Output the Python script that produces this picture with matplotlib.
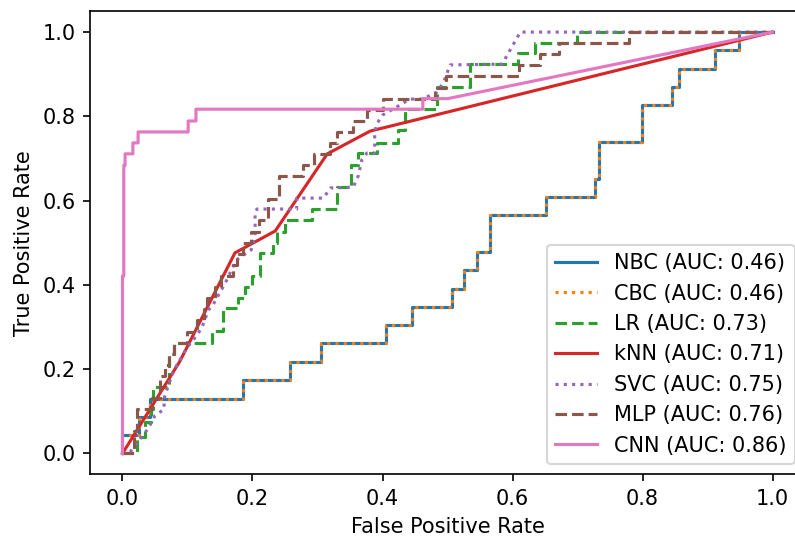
import matplotlib
matplotlib.use("Agg")
import matplotlib.pyplot as plt

# ROC curves
nbc_fpr = [0, 0, 0.026, 0.026, 0.043, 0.043, 0.186, 0.186, 0.257, 0.257, 0.305, 0.305,
           0.405, 0.405, 0.446, 0.446, 0.507, 0.507, 0.526, 0.526, 0.546, 0.546, 0.565, 0.565,
           0.652, 0.652, 0.727, 0.727, 0.733, 0.733, 0.799, 0.799, 0.845, 0.845, 0.856, 0.856,
           0.912, 0.912, 0.948, 0.948, 1.0]
nbc_tpr = [0, 0.043, 0.043, 0.087, 0.087, 0.13, 0.13, 0.174, 0.174, 0.217, 0.217, 0.261,
           0.261, 0.304, 0.304, 0.348, 0.348, 0.391, 0.391, 0.435, 0.435, 0.478, 0.478, 0.565,
           0.565, 0.609, 0.609, 0.652, 0.652, 0.739, 0.739, 0.826, 0.826, 0.87, 0.87, 0.913,
           0.913, 0.957, 0.957, 1.0, 1.0]

# CBC gives the same curve as NBC
cbc_fpr = list(nbc_fpr)
cbc_tpr = list(nbc_tpr)

lr_fpr = [0, 0.022, 0.022, 0.035, 0.035, 0.044, 0.044, 0.047, 0.047, 0.072, 0.072, 0.079,
          0.079, 0.137, 0.137, 0.155, 0.155, 0.178, 0.178, 0.188, 0.188, 0.2, 0.2, 0.212,
          0.212, 0.232, 0.232, 0.238, 0.238, 0.25, 0.25, 0.292, 0.292, 0.33, 0.33, 0.352,
          0.352, 0.363, 0.363, 0.392, 0.392, 0.424, 0.424, 0.435, 0.435, 0.484, 0.484, 0.535,
          0.535, 0.608, 0.608, 0.635, 0.635, 0.699, 0.699, 1.0]
lr_tpr = [0, 0, 0.039, 0.039, 0.075, 0.075, 0.105, 0.105, 0.158, 0.158, 0.237, 0.237,
          0.262, 0.262, 0.29, 0.29, 0.345, 0.345, 0.369, 0.369, 0.395, 0.395, 0.421, 0.421,
          0.476, 0.476, 0.5, 0.5, 0.526, 0.526, 0.554, 0.554, 0.58, 0.58, 0.632, 0.632,
          0.684, 0.684, 0.713, 0.713, 0.737, 0.737, 0.767, 0.767, 0.817, 0.817, 0.87, 0.87,
          0.924, 0.924, 0.95, 0.95, 0.974, 0.974, 1.0, 1.0]

knn_fpr = [0, 0.088, 0.173, 0.235, 0.315, 0.381, 1.0]
knn_tpr = [0, 0.218, 0.476, 0.528, 0.711, 0.765, 1.0]

svc_fpr = [0, 0.01, 0.03, 0.04, 0.05, 0.064, 0.064, 0.07, 0.08, 0.1, 0.107, 0.122, 0.132,
           0.139, 0.158, 0.175, 0.198, 0.204, 0.204, 0.207, 0.268, 0.268, 0.309, 0.32, 0.355,
           0.363, 0.368, 0.376, 0.388, 0.388, 0.392, 0.4, 0.427, 0.442, 0.462, 0.484, 0.494,
           0.504, 0.584, 0.612, 1.0]
svc_tpr = [0, 0, 0.04, 0.06, 0.09, 0.105, 0.13, 0.16, 0.2, 0.253, 0.265, 0.298, 0.34,
           0.352, 0.404, 0.459, 0.483, 0.518, 0.573, 0.58, 0.58, 0.606, 0.606, 0.63, 0.632,
           0.66, 0.696, 0.713, 0.713, 0.763, 0.784, 0.803, 0.827, 0.841, 0.841, 0.858, 0.881,
           0.922, 0.924, 1.0, 1.0]

mlp_fpr = [0, 0.018, 0.018, 0.022, 0.022, 0.045, 0.045, 0.058, 0.058, 0.066, 0.066, 0.072,
           0.072, 0.08, 0.08, 0.1, 0.1, 0.115, 0.115, 0.126, 0.126, 0.13, 0.13, 0.142, 0.142,
           0.152, 0.152, 0.17, 0.17, 0.176, 0.176, 0.186, 0.186, 0.198, 0.198, 0.21, 0.21,
           0.224, 0.224, 0.241, 0.241, 0.278, 0.278, 0.295, 0.295, 0.319, 0.319, 0.33, 0.33,
           0.355, 0.355, 0.376, 0.376, 0.4, 0.4, 0.481, 0.481, 0.498, 0.498, 0.61, 0.61,
           0.642, 0.642, 0.672, 0.672, 0.779, 0.779, 1.0]
mlp_tpr = [0, 0, 0.053, 0.053, 0.105, 0.105, 0.132, 0.132, 0.184, 0.184, 0.211, 0.211,
           0.237, 0.237, 0.263, 0.263, 0.289, 0.289, 0.316, 0.316, 0.342, 0.342, 0.368, 0.368,
           0.395, 0.395, 0.421, 0.421, 0.447, 0.447, 0.474, 0.474, 0.5, 0.5, 0.526, 0.526,
           0.553, 0.553, 0.605, 0.605, 0.658, 0.658, 0.684, 0.684, 0.711, 0.711, 0.737, 0.737,
           0.763, 0.763, 0.789, 0.789, 0.816, 0.816, 0.842, 0.842, 0.868, 0.868, 0.895, 0.895,
           0.921, 0.921, 0.947, 0.947, 0.974, 0.974, 1.0, 1.0]

cnn_fpr = [0, 0, 0.002, 0.002, 0.004, 0.004, 0.016, 0.016, 0.024, 0.024, 0.101, 0.101,
           0.113, 0.113, 0.462, 0.462, 0.5, 1.0]
cnn_tpr = [0, 0.421, 0.421, 0.684, 0.684, 0.711, 0.711, 0.737, 0.737, 0.763, 0.763, 0.789,
           0.789, 0.817, 0.817, 0.842, 0.842, 1.0]

names = ["NBC", "CBC", "LR", "kNN", "SVC", "MLP", "CNN"]
aucs = [0.46, 0.46, 0.73, 0.71, 0.75, 0.76, 0.86]
styles = ["-", ":", "--", "-", ":", "--", "-"]
curves = [(nbc_fpr, nbc_tpr), (cbc_fpr, cbc_tpr), (lr_fpr, lr_tpr), (knn_fpr, knn_tpr),
          (svc_fpr, svc_tpr), (mlp_fpr, mlp_tpr), (cnn_fpr, cnn_tpr)]

fig = plt.figure(figsize=(5.3, 3.6), dpi=150)
# the original image is cut off on the right, so the axes run past the edge
ax = fig.add_axes([0.1132, 0.1213, 0.8994, 0.8583])

for (fpr, tpr), name, auc, ls in zip(curves, names, aucs, styles):
    ax.plot(fpr, tpr, linestyle=ls, label="%s (AUC: %.2f)" % (name, auc))

ax.set_xlabel("False Positive Rate")
ax.set_ylabel("True Positive Rate")
ax.legend(loc="lower right")

fig.savefig("out.png", dpi=150)
